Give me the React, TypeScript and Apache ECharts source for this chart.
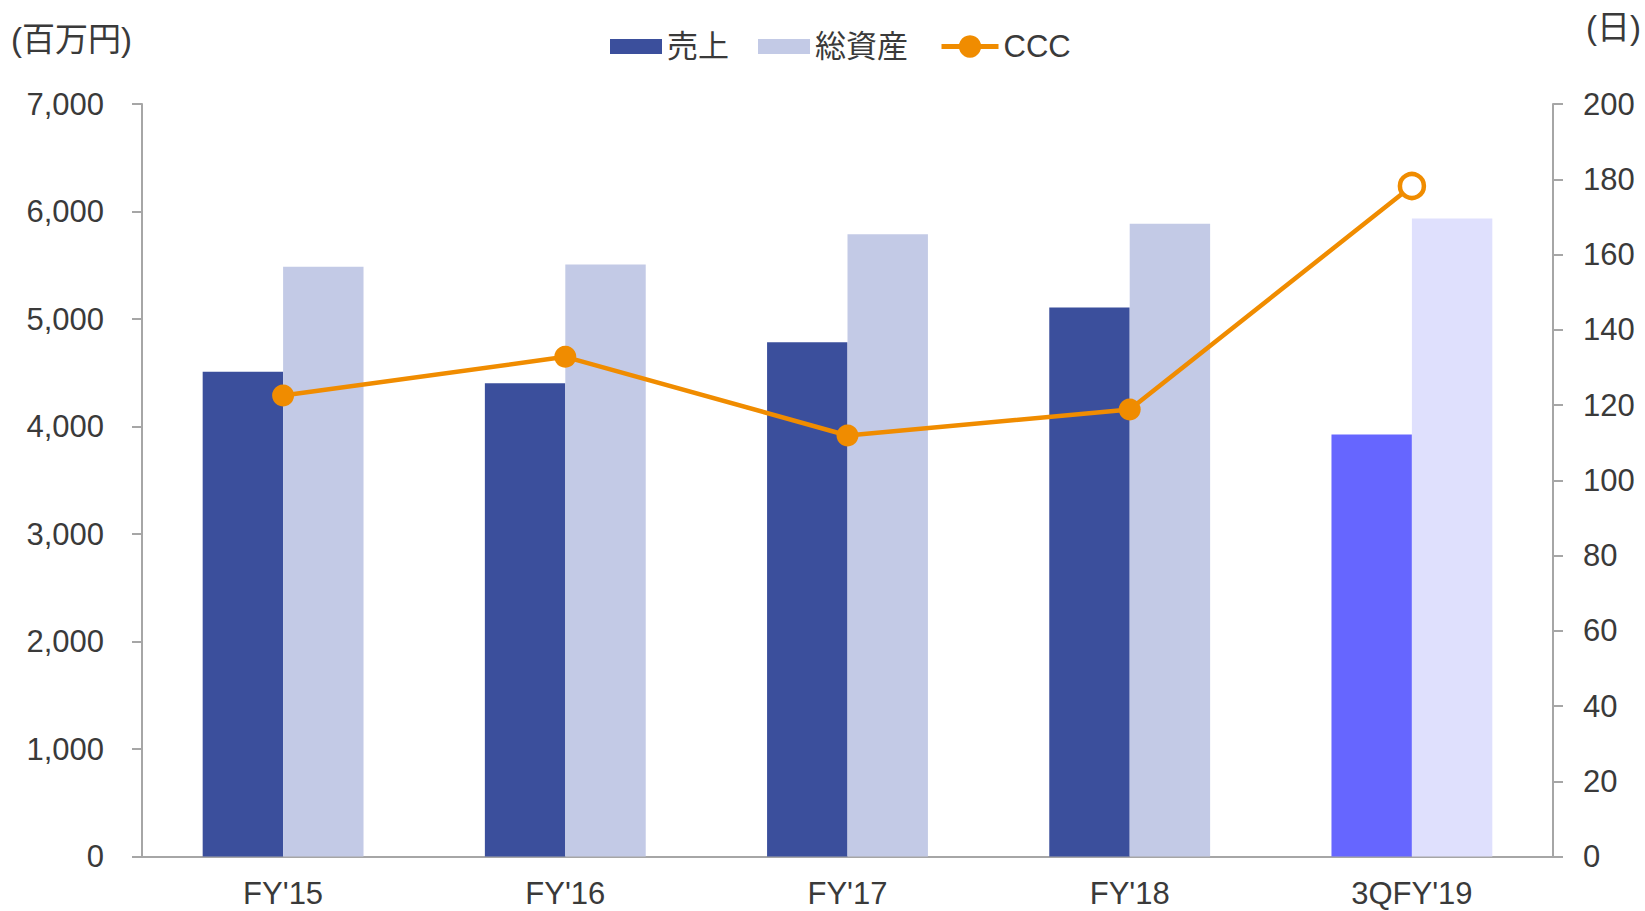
import React, { useEffect, useRef } from "react";
import * as echarts from "echarts";

const categories = ["FY'15", "FY'16", "FY'17", "FY'18", "3QFY'19"];
const salesValues = [4510, 4403, 4784, 5106, 3925];
const assetValues = [5487, 5506, 5789, 5887, 5936];
const cccValues = [122.5, 132.8, 111.9, 118.8, 178.2];
const leftTicks = { min: 0, max: 7000, interval: 1000 };
const rightTicks = { min: 0, max: 200, interval: 20 };

const FONT = "'Liberation Sans', Arial, 'Noto Sans CJK JP', sans-serif";
const TEXT = "#3A3A3A";
const AXIS = "#A6A6A6";
const FS = 31;

export default function App() {
  const ref = useRef<HTMLDivElement>(null);
  useEffect(() => {
    if (!ref.current) return;
    const chart = echarts.init(ref.current, null, { renderer: "svg" });
    const last = categories.length - 1;
    chart.setOption({
      animation: false,
      textStyle: { fontFamily: FONT, color: TEXT },
      legend: [
        {
          top: 31,
          left: 610,
          padding: 0,
          icon: "rect",
          itemWidth: 52,
          itemHeight: 15,
          itemGap: 29,
          textStyle: { fontSize: FS, color: TEXT, fontFamily: FONT },
          data: ["売上", "総資産"],
        },
        {
          top: 31,
          left: 939,
          padding: 0,
          itemWidth: 57,
          itemHeight: 28,
          textStyle: { fontSize: FS, color: TEXT, fontFamily: FONT },
          lineStyle: { width: 5 },
          data: ["CCC"],
        },
      ],
      graphic: [
        {
          type: "text",
          left: 11,
          top: 23,
          style: { text: "(百万円)", fontSize: 33, fill: TEXT, fontFamily: FONT },
        },
        {
          type: "text",
          right: 4,
          top: 11,
          style: { text: "(日)", fontSize: 33, fill: TEXT, fontFamily: FONT },
        },
      ],
      grid: { left: 142, right: 92, top: 104, bottom: 54.5, containLabel: false },
      xAxis: {
        type: "category",
        data: categories,
        axisLine: { lineStyle: { color: AXIS, width: 2 } },
        axisTick: { show: false },
        axisLabel: { fontSize: FS, color: TEXT, margin: 21, fontFamily: FONT },
      },
      yAxis: [
        {
          type: "value",
          ...leftTicks,
          position: "left",
          axisLine: { show: true, lineStyle: { color: AXIS, width: 2 } },
          axisTick: { show: true, length: 10, lineStyle: { color: AXIS, width: 2 } },
          splitLine: { show: false },
          axisLabel: {
            fontSize: FS,
            color: TEXT,
            margin: 38,
            fontFamily: FONT,
            formatter: (v: number) => v.toLocaleString("en-US"),
          },
        },
        {
          type: "value",
          ...rightTicks,
          position: "right",
          axisLine: { show: true, lineStyle: { color: AXIS, width: 2 } },
          axisTick: { show: true, length: 10, lineStyle: { color: AXIS, width: 2 } },
          splitLine: { show: false },
          axisLabel: { fontSize: FS, color: TEXT, margin: 30, fontFamily: FONT },
        },
      ],
      series: [
        {
          name: "売上",
          type: "bar",
          yAxisIndex: 0,
          barGap: "0%",
          barCategoryGap: "43%",
          itemStyle: { color: "#3B4F9C" },
          data: salesValues.map((v, i) =>
            i === last ? { value: v, itemStyle: { color: "#6666FF" } } : v
          ),
        },
        {
          name: "総資産",
          type: "bar",
          yAxisIndex: 0,
          itemStyle: { color: "#C3CAE6" },
          data: assetValues.map((v, i) =>
            i === last ? { value: v, itemStyle: { color: "#DFE0FD" } } : v
          ),
        },
        {
          name: "CCC",
          type: "line",
          yAxisIndex: 1,
          symbol: "circle",
          symbolSize: 22,
          lineStyle: { color: "#F08C00", width: 4.5 },
          itemStyle: { color: "#F08C00" },
          data: cccValues.map((v, i) =>
            i === last
              ? {
                  value: v,
                  symbol: "circle",
                  symbolSize: 24,
                  itemStyle: { color: "#FFFFFF", borderColor: "#F08C00", borderWidth: 4.5 },
                }
              : v
          ),
          z: 5,
        },
      ],
    });
    return () => chart.dispose();
  }, []);
  return (
    <div
      ref={ref}
      style={{ position: "absolute", left: 0, top: 0, width: 1645, height: 911, background: "#fff" }}
    />
  );
}
